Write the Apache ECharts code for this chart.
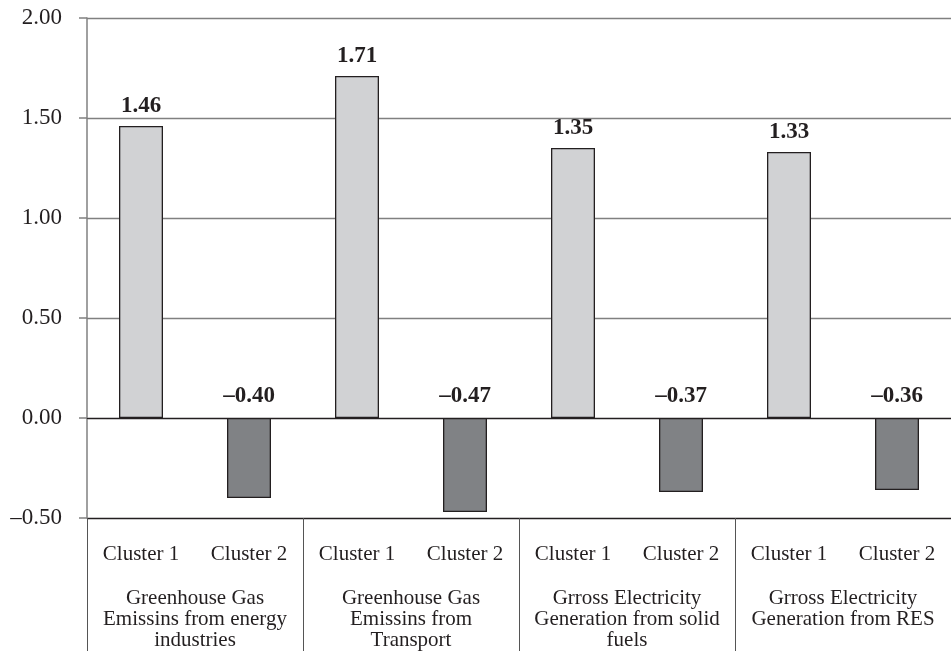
<!DOCTYPE html>
<html>
<head>
<meta charset="utf-8">
<script src="https://cdn.jsdelivr.net/npm/echarts@6/dist/echarts.min.js"></script>
<style>
html,body{margin:0;padding:0;background:#fff;}
#c{width:951px;height:651px;}
</style>
</head>
<body>
<div id="c"></div>
<script>
var groups = [
  'Greenhouse Gas\nEmissins from energy\nindustries',
  'Greenhouse Gas\nEmissins from\nTransport',
  'Grross Electricity\nGeneration from solid\nfuels',
  'Grross Electricity\nGeneration from RES'
];
var clusters = ['Cluster 1', 'Cluster 2'];
var cluster1 = [1.46, 1.71, 1.35, 1.33];
var cluster2 = [-0.40, -0.47, -0.37, -0.36];
var yTicks = { min: -0.5, max: 2.0, interval: 0.5 };

var fmt = function (v) {
  return (v < 0 ? '\u2013' : '') + Math.abs(v).toFixed(2);
};

var cats = [];
var data = [];
for (var i = 0; i < groups.length; i++) {
  cats.push(clusters[0], clusters[1]);
  data.push({ value: cluster1[i], itemStyle: { color: '#d1d2d4' } });
  data.push({ value: cluster2[i], itemStyle: { color: '#808285' },
    label: { position: 'top', distance: 10 } });
}

var font = "'Liberation Serif', 'DejaVu Serif', serif";
var chart = echarts.init(document.getElementById('c'));
chart.setOption({
  animation: false,
  backgroundColor: '#fff',
  grid: { left: 87, top: 18, width: 868, height: 500, containLabel: false },
  xAxis: [
    {
      type: 'category', data: cats, position: 'bottom',
      axisLine: { show: true, lineStyle: { color: '#231f20', width: 1 } },
      axisTick: { show: false },
      axisLabel: { margin: 26, fontFamily: font, fontSize: 21, color: '#231f20', interval: 0 }
    },
    {
      type: 'category', data: groups, position: 'bottom',
      axisLine: { show: false },
      axisTick: { show: true, length: 134, alignWithLabel: false, lineStyle: { color: '#555', width: 1 } },
      axisLabel: { margin: 70, fontFamily: font, fontSize: 21, lineHeight: 21, color: '#231f20', interval: 0, verticalAlign: 'top' }
    }
  ],
  yAxis: {
    type: 'value', min: yTicks.min, max: yTicks.max, interval: yTicks.interval,
    axisLine: { show: true, lineStyle: { color: '#808080', width: 1.5 } },
    axisTick: { show: true, length: 8, lineStyle: { color: '#808080', width: 1.5 } },
    axisLabel: { margin: 25, fontFamily: font, fontSize: 23, color: '#231f20', formatter: fmt },
    splitLine: { show: true, lineStyle: { color: ['#231f20', '#231f20', '#808080', '#808080', '#808080', '#808080'], width: 1.3 } }
  },
  series: [{
    type: 'bar', data: data, barWidth: 44, xAxisIndex: 0,
    itemStyle: { borderColor: '#231f20', borderWidth: 1.3 },
    label: {
      show: true, position: 'top', distance: 8,
      fontFamily: font, fontSize: 23, fontWeight: 'bold', color: '#231f20',
      formatter: function (p) { return fmt(p.value); }
    }
  }]
});
</script>
</body>
</html>
